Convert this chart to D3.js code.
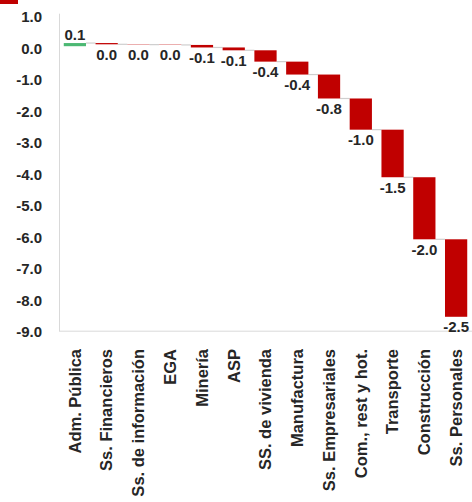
<!DOCTYPE html>
<html>
<head>
<meta charset="utf-8">
<script src="https://cdn.jsdelivr.net/npm/d3@7"></script>
<style>
  html, body { margin: 0; padding: 0; background: #fff; }
  svg { display: block; }
  text { font-family: "Liberation Sans", Arial, sans-serif; font-weight: bold; fill: #262626; }
</style>
</head>
<body>
<svg id="chart" width="472" height="502"></svg>
<script>
// ---- data ----
const categories = ["Adm. Pública", "Ss. Financieros", "Ss. de información", "EGA", "Minería", "ASP",
  "SS. de vivienda", "Manufactura", "Ss. Empresariales", "Com., rest y hot.", "Transporte", "Construcción", "Ss. Personales"];
const values = [0.10, -0.04, -0.01, -0.01, -0.08, -0.09, -0.36, -0.41, -0.76, -0.99, -1.51, -1.97, -2.46];
const yTicks = [1, 0, -1, -2, -3, -4, -5, -6, -7, -8, -9];

// ---- layout ----
const plotLeft = 59, plotRight = 472, plotTop = 14.7, plotBottom = 329.7;
const svg = d3.select("#chart");

const x = d3.scaleBand().domain(categories).range([plotLeft, plotRight]).paddingInner(0.3).paddingOuter(0.15);
const y = d3.scaleLinear().domain([1, -9]).range([plotTop, plotBottom]);

const fmt = v => { const r = Math.round(v * 10) / 10; return (r === 0 ? 0 : r).toFixed(1); };

// waterfall steps
let run = 0;
const steps = values.map((v, i) => {
  const start = run; run += v;
  return { cat: categories[i], v, start, end: run };
});

// small red mark at top-left
svg.append("rect").attr("x", 0).attr("y", 0).attr("width", 18).attr("height", 4).attr("fill", "#c00000");

// axes lines
svg.append("line").attr("x1", plotLeft + 0.5).attr("x2", plotLeft + 0.5).attr("y1", y(1) - 1).attr("y2", y(-9) + 1.5)
  .attr("stroke", "#d9d9d9").attr("stroke-width", 1);
svg.append("line").attr("x1", plotLeft).attr("x2", plotRight).attr("y1", y(-9) + 1.5).attr("y2", y(-9) + 1.5)
  .attr("stroke", "#d9d9d9").attr("stroke-width", 1);

// y tick labels
svg.append("g").selectAll("text").data(yTicks).join("text")
  .attr("x", 42).attr("y", d => y(d) + 2)
  .attr("dy", "0.36em")
  .attr("text-anchor", "end")
  .attr("font-size", "15px")
  .text(d => d.toFixed(1));

// connectors
svg.append("g").selectAll("line").data(steps.slice(0, -1)).join("line")
  .attr("x1", d => x(d.cat) + x.bandwidth())
  .attr("x2", (d, i) => x(categories[i + 1]))
  .attr("y1", d => y(d.end)).attr("y2", d => y(d.end))
  .attr("stroke", "#cfcfcf").attr("stroke-width", 1.2);

// bars
svg.append("g").selectAll("rect").data(steps).join("rect")
  .attr("x", d => x(d.cat))
  .attr("width", x.bandwidth())
  .attr("y", d => y(Math.max(d.start, d.end)))
  .attr("height", d => Math.abs(y(d.end) - y(d.start)))
  .attr("fill", d => d.v >= 0 ? "#4cb873" : "#c00000");

// value labels
svg.append("g").selectAll("text").data(steps).join("text")
  .attr("x", d => x(d.cat) + x.bandwidth() / 2)
  .attr("y", d => d.v >= 0 ? y(d.end) - 3 : y(d.end) + 15.5)
  .attr("text-anchor", "middle")
  .attr("font-size", "15px")
  .text(d => fmt(d.v));

// category labels
svg.append("g").selectAll("text").data(categories).join("text")
  .attr("transform", d => `translate(${x(d) + x.bandwidth() / 2},349) rotate(-90)`)
  .attr("dy", "0.35em")
  .attr("text-anchor", "end")
  .attr("font-size", "16.5px")
  .text(d => d);
</script>
</body>
</html>
